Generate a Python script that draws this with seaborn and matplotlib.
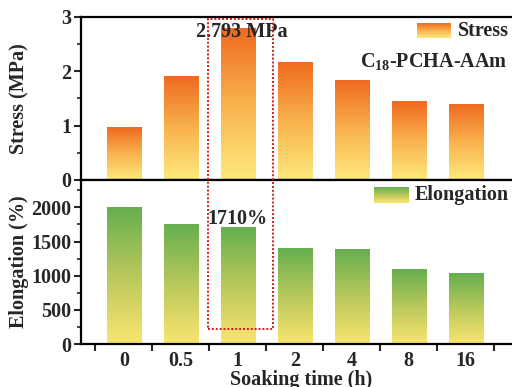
import numpy as np
import pandas as pd
import matplotlib
matplotlib.use("Agg")
import matplotlib.pyplot as plt
from matplotlib.colors import LinearSegmentedColormap
from matplotlib.patches import Rectangle
from matplotlib.ticker import MultipleLocator, FixedLocator
import seaborn as sns

# Tensile data versus soaking time
soak_times = ["0", "0.5", "1", "2", "4", "8", "16"]
stress_mpa = [0.96, 1.91, 2.793, 2.16, 1.84, 1.45, 1.39]
elongation_pct = [2000, 1750, 1710, 1395, 1378, 1088, 1025]
sample_name = r"C$_{\mathregular{18}}$-PCHA-AAm"

sns.set_style("ticks")
plt.rcParams["font.family"] = ["Liberation Serif", "DejaVu Serif"]
plt.rcParams["font.weight"] = "bold"
plt.rcParams["mathtext.fontset"] = "custom"
plt.rcParams["mathtext.rm"] = "Liberation Serif:bold"
plt.rcParams["mathtext.it"] = "Liberation Serif:bold"
plt.rcParams["mathtext.bf"] = "Liberation Serif:bold"
FS = 14.5

orange_cmap = LinearSegmentedColormap.from_list(
    "stress", ["#FDEA7C", "#F9B24E", "#EF6A20"])
green_cmap = LinearSegmentedColormap.from_list(
    "elong", ["#FAE570", "#B9C85C", "#66AF4F"])

df = pd.DataFrame({"time": soak_times, "stress": stress_mpa,
                   "elongation": elongation_pct})

fig = plt.figure(figsize=(5.12, 3.87), dpi=100)
W, H = 512, 387
left_px, right_px = 81, 522
ax1 = fig.add_axes([left_px / W, 1 - 180 / H, (right_px - left_px) / W, 163 / H])
ax2 = fig.add_axes([left_px / W, 1 - 344 / H, (right_px - left_px) / W, 164 / H])


def gradient_bars(ax, cmap):
    grad = np.linspace(1, 0, 256).reshape(-1, 1)
    for p in list(ax.patches):
        x, w, h = p.get_x(), p.get_width(), p.get_height()
        ax.imshow(grad, extent=[x, x + w, 0, h], origin="upper", aspect="auto",
                  cmap=cmap, vmin=0, vmax=1, zorder=2, interpolation="bilinear")
        p.set_visible(False)


sns.barplot(data=df, x="time", y="stress", order=soak_times, width=0.6,
            color="#EF6A20", ax=ax1)
sns.barplot(data=df, x="time", y="elongation", order=soak_times, width=0.6,
            color="#66AF4F", ax=ax2)
gradient_bars(ax1, orange_cmap)
gradient_bars(ax2, green_cmap)

xlim = (-0.75, -0.75 + (right_px - left_px) / 57.0)
for ax in (ax1, ax2):
    ax.set_xlim(*xlim)
    for s in ax.spines.values():
        s.set_linewidth(1.6)
        s.set_color("black")

ax1.set_ylim(0, 3)
ax2.set_ylim(0, 2400)

# Top panel ticks
ax1.yaxis.set_major_locator(FixedLocator([0, 1, 2, 3]))
ax1.yaxis.set_minor_locator(MultipleLocator(0.5))
ax1.set_xticks([])
ax1.tick_params(axis="y", which="major", direction="out", length=5, width=1.5,
                labelsize=FS, pad=2)
ax1.tick_params(axis="y", which="minor", direction="out", length=3, width=1.2)
ax1.set_ylabel("Stress (MPa)", fontsize=FS, fontweight="bold")
ax1.set_xlabel("")

# Bottom panel ticks
ax2.yaxis.set_major_locator(FixedLocator([0, 500, 1000, 1500, 2000]))
ax2.yaxis.set_minor_locator(MultipleLocator(250))
ax2.set_xticks(range(len(soak_times)))
ax2.set_xticklabels(soak_times)
ax2.xaxis.set_minor_locator(FixedLocator(np.arange(-0.5, len(soak_times), 1.0)))
ax2.tick_params(axis="x", which="major", length=0, labelsize=FS, pad=5)
ax2.tick_params(axis="x", which="minor", direction="out", length=5, width=1.5)
ax2.tick_params(axis="y", which="major", direction="out", length=5, width=1.5,
                labelsize=FS, pad=2)
ax2.tick_params(axis="y", which="minor", direction="out", length=3, width=1.2)
ax2.set_ylabel("Elongation (%)", fontsize=FS, fontweight="bold")
ax2.set_xlabel("Soaking time (h)", fontsize=FS, fontweight="bold", labelpad=-1)
for lab in ax1.get_yticklabels() + ax2.get_yticklabels() + ax2.get_xticklabels():
    lab.set_fontweight("bold")

# Align both y labels on the same column
ylab_x = (29 - left_px) / (right_px - left_px)
ax1.yaxis.set_label_coords(ylab_x, 0.5)
ax2.yaxis.set_label_coords(ylab_x, 0.5)

# Value callouts
peak = 2
ax1.text(peak + 0.07, stress_mpa[peak] - 0.06, f"{stress_mpa[peak]:.3f} MPa",
         ha="center", va="center", fontsize=FS, fontweight="bold", zorder=5)
ax2.text(peak, elongation_pct[peak] + 115, f"{elongation_pct[peak]}%",
         ha="center", va="center", fontsize=FS, fontweight="bold", zorder=5)

# Dotted frame around the 1 h sample
ax2.add_patch(Rectangle((1.47, 220), 1.14, 4530, fill=False, edgecolor="#D7191C",
                        linestyle=(0, (1, 1)), linewidth=1.4, clip_on=False,
                        zorder=6))

# Gradient legend swatches
def swatch(ax, x0, y0, w, h, cmap):
    sax = ax.inset_axes([x0, y0, w, h])
    sax.imshow(np.linspace(1, 0, 64).reshape(-1, 1), aspect="auto", cmap=cmap,
               vmin=0, vmax=1, origin="upper", interpolation="bilinear")
    sax.set_axis_off()

swatch(ax1, 0.762, 0.871, 0.077, 0.092, orange_cmap)
ax1.text(0.855, 0.917, "Stress", transform=ax1.transAxes, ha="left",
         va="center", fontsize=FS, fontweight="bold")
ax1.text(0.633, 0.73, sample_name, transform=ax1.transAxes, ha="left",
         va="center", fontsize=FS, fontweight="bold")

swatch(ax2, 0.664, 0.860, 0.079, 0.097, green_cmap)
ax2.text(0.757, 0.909, "Elongation", transform=ax2.transAxes, ha="left",
         va="center", fontsize=FS, fontweight="bold")

fig.savefig("out.png", dpi=100)
